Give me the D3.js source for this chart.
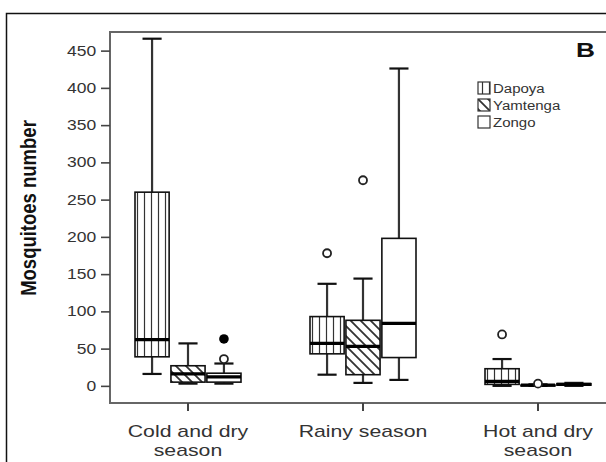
<!DOCTYPE html>
<html><head><meta charset="utf-8">
<script src="https://cdn.jsdelivr.net/npm/d3@7"></script>
<style>html,body{margin:0;padding:0;background:#fff;}svg{display:block;}</style>
</head><body>
<script>
const categories = ["Cold and dry season", "Rainy season", "Hot and dry season"];
const categoryLines = [["Cold and dry", "season"], ["Rainy season"], ["Hot and dry", "season"]];
const sites = ["Dapoya", "Yamtenga", "Zongo"];
const yTicks = [0, 50, 100, 150, 200, 250, 300, 350, 400, 450];
// [lower whisker, Q1, median, Q3, upper whisker] per season
const dapoyaStats   = [[16, 39, 62, 260, 466], [15, 43, 57, 93, 137], [0, 2, 6, 23, 36]];
const yamtengaStats = [[3, 5, 16, 27, 57],     [4, 15, 53, 88, 144],  [0, 0, 1, 1, 2]];
const zongoStats    = [[3, 5, 12, 17, 30],     [8, 38, 84, 198, 426], [0, 1, 2, 3, 4]];
const dapoyaOutliers   = [[], [178], [69]];
const yamtengaOutliers = [[], [276], [3]];
const zongoOutliers    = [[36], [], []];
const zongoExtremes    = [[63], [], []];
const panelLabel = "B";
const yTitle = "Mosquitoes number";

const W = 606, H = 462, K = 1.25;
const svg = d3.select("body").append("svg").attr("width", W).attr("height", H);
const defs = svg.append("defs");
const pv = defs.append("pattern").attr("id", "pv").attr("patternUnits", "userSpaceOnUse")
  .attr("width", 7).attr("height", 7).attr("x", 1);
pv.append("rect").attr("width", 7).attr("height", 7).attr("fill", "#fff");
pv.append("line").attr("x1", 3.5).attr("x2", 3.5).attr("y1", 0).attr("y2", 7).attr("stroke", "#333").attr("stroke-width", 1.2);
const pd = defs.append("pattern").attr("id", "pd").attr("patternUnits", "userSpaceOnUse")
  .attr("width", 10).attr("height", 10);
pd.append("rect").attr("width", 10).attr("height", 10).attr("fill", "#fff");
pd.append("path").attr("d", "M0,0L10,10M-5,5L5,15M5,-5L15,5").attr("stroke", "#333").attr("stroke-width", 1.8);
const fills = {Dapoya: "url(#pv)", Yamtenga: "url(#pd)", Zongo: "#fff"};

const series = [
  {name: "Dapoya", stats: dapoyaStats, out: dapoyaOutliers, ext: [[], [], []]},
  {name: "Yamtenga", stats: yamtengaStats, out: yamtengaOutliers, ext: [[], [], []]},
  {name: "Zongo", stats: zongoStats, out: zongoOutliers, ext: zongoExtremes}
];

const plotL = 110, plotT = 32, plotB = 403;
const x = d3.scaleBand().domain(categories).range([100.5, 625.5]);
const xs = d3.scaleBand().domain(sites).range([-53, 53]).paddingInner(0.05);
const y = d3.scaleLinear().domain([-23, 475]).range([plotB, plotT]);

// outer frame
svg.append("path").attr("d", `M6.5,${H}V13.5H${W}`).attr("fill", "none").attr("stroke", "#111").attr("stroke-width", 1.5);
// plot frame
svg.append("path").attr("d", `M${W},${plotT}H${plotL}V${plotB}H${W}`).attr("fill", "none").attr("stroke", "#666").attr("stroke-width", 2);

// y axis
const ya = svg.append("g").attr("transform", `translate(${plotL},0)`)
  .call(d3.axisLeft(y).tickValues(yTicks).tickSize(9).tickPadding(2));
ya.select(".domain").remove();
ya.selectAll(".tick line").attr("stroke", "#444").attr("stroke-width", 1.6);
ya.selectAll(".tick text").attr("font-family", "Liberation Sans, Arial, sans-serif")
  .attr("font-size", 14).attr("fill", "#333").attr("transform", `scale(${K},1)`);

// x ticks and labels
categories.forEach((c, i) => {
  const cx = x(c) + x.bandwidth() / 2;
  svg.append("line").attr("x1", cx).attr("x2", cx).attr("y1", plotB).attr("y2", plotB + 8)
    .attr("stroke", "#444").attr("stroke-width", 2);
  categoryLines[i].forEach((t, j) => {
    svg.append("text").attr("transform", `translate(${cx},${437 + j * 19}) scale(${K},1)`)
      .attr("text-anchor", "middle").attr("font-family", "Liberation Sans, Arial, sans-serif")
      .attr("font-size", 17).attr("fill", "#333").text(t);
  });
});

// y title
svg.append("text").attr("transform", `translate(36,208) rotate(-90) scale(1,1.2)`)
  .attr("text-anchor", "middle").attr("font-family", "Liberation Sans, Arial, sans-serif")
  .attr("font-weight", "bold").attr("font-size", 18.5).attr("fill", "#111").text(yTitle);

// boxes
const g = svg.append("g");
series.forEach(s => {
  categories.forEach((c, i) => {
    const [lo, q1, md, q3, hi] = s.stats[i];
    const x0 = x(c) + x.bandwidth() / 2 + xs(s.name);
    const bw = xs.bandwidth();
    const cx = x0 + bw / 2;
    const cw = bw * 0.28;
    g.append("line").attr("x1", cx).attr("x2", cx).attr("y1", y(hi)).attr("y2", y(q3)).attr("stroke", "#333").attr("stroke-width", 2.2);
    g.append("line").attr("x1", cx).attr("x2", cx).attr("y1", y(q1)).attr("y2", y(lo)).attr("stroke", "#333").attr("stroke-width", 2.2);
    g.append("line").attr("x1", cx - cw).attr("x2", cx + cw).attr("y1", y(hi)).attr("y2", y(hi)).attr("stroke", "#111").attr("stroke-width", 2.2);
    g.append("line").attr("x1", cx - cw).attr("x2", cx + cw).attr("y1", y(lo)).attr("y2", y(lo)).attr("stroke", "#111").attr("stroke-width", 2.2);
    g.append("rect").attr("x", x0).attr("width", bw).attr("y", y(q3)).attr("height", Math.max(y(q1) - y(q3), 0.5))
      .attr("fill", fills[s.name]).attr("stroke", "#111").attr("stroke-width", 1.6);
    g.append("line").attr("x1", x0).attr("x2", x0 + bw).attr("y1", y(md)).attr("y2", y(md)).attr("stroke", "#000").attr("stroke-width", 3.2);
    s.out[i].forEach(v => {
      g.append("circle").attr("cx", cx).attr("cy", y(v)).attr("r", 4).attr("fill", "#fff").attr("stroke", "#222").attr("stroke-width", 1.8);
    });
    s.ext[i].forEach(v => {
      g.append("circle").attr("cx", cx).attr("cy", y(v)).attr("r", 4.8).attr("fill", "#000");
    });
  });
});

// legend
const lg = svg.append("g").attr("transform", "translate(478,82)");
sites.forEach((sname, i) => {
  const row = lg.append("g").attr("transform", `translate(0,${i * 17})`);
  row.append("rect").attr("width", 12).attr("height", 12).attr("fill", fills[sname]).attr("stroke", "#333").attr("stroke-width", 1.2);
  row.append("text").attr("transform", `translate(15,11) scale(${K},1)`).attr("font-family", "Liberation Sans, Arial, sans-serif")
    .attr("font-size", 12).attr("fill", "#333").text(sname);
});

// panel label
svg.append("text").attr("transform", `translate(595,57) scale(${K},1)`).attr("text-anchor", "end")
  .attr("font-family", "Liberation Sans, Arial, sans-serif").attr("font-weight", "bold").attr("font-size", 21)
  .attr("fill", "#111").text(panelLabel);
</script>
</body></html>
